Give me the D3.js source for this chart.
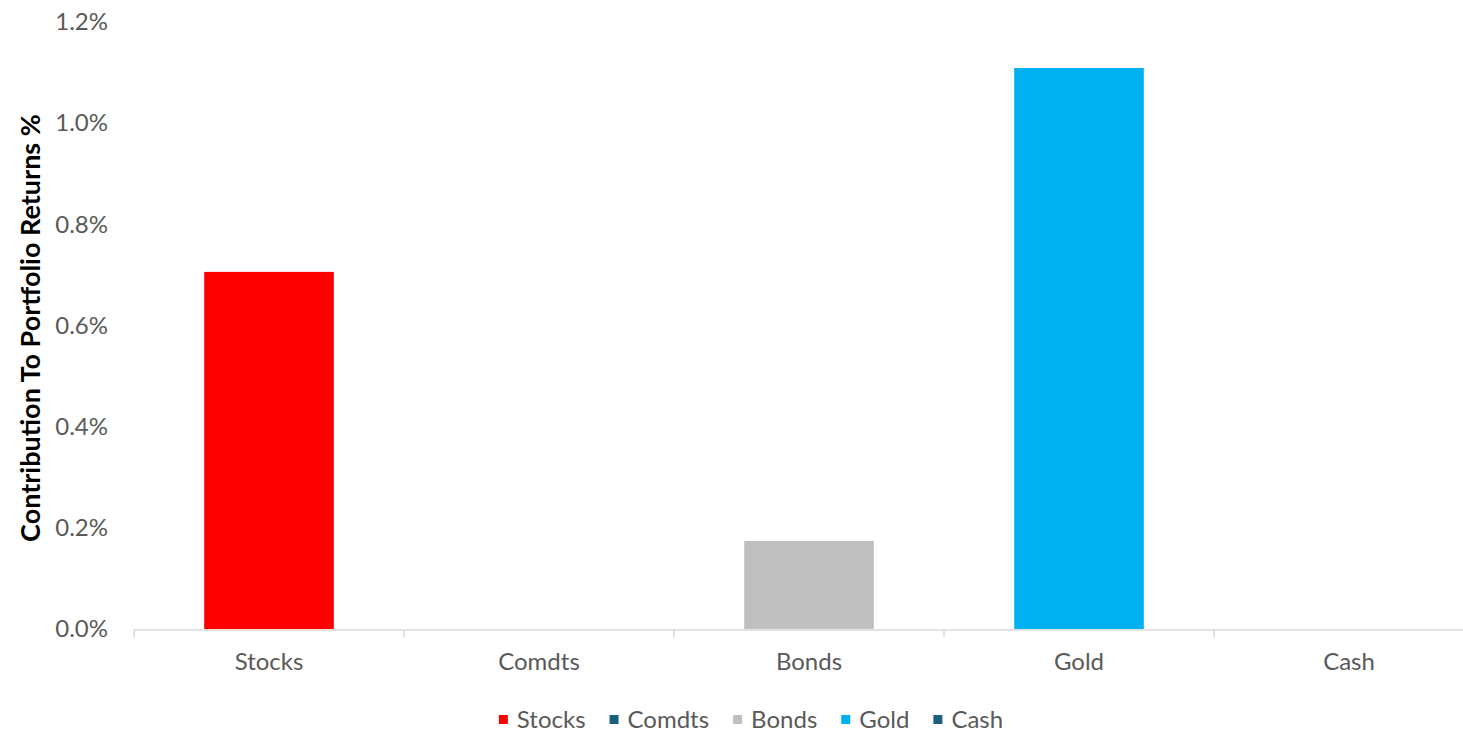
<!DOCTYPE html>
<html>
<head>
<meta charset="utf-8">
<script src="https://cdn.jsdelivr.net/npm/d3@7"></script>
<style>
  body { margin: 0; background: #fff; }
  svg { display: block; font-family: Lato, "Open Sans", sans-serif; }
</style>
</head>
<body>
<svg id="svg1" width="1463" height="732"></svg>
<script>
var categories = ["Stocks", "Comdts", "Bonds", "Gold", "Cash"];
var contributions = [0.706, 0.0, 0.174, 1.109, 0.0];
var barColors = ["#ff0000", "#1a5e82", "#bfbfbf", "#00b0f0", "#1a5e82"];
var yTicks = [0, 0.2, 0.4, 0.6, 0.8, 1.0, 1.2];

var svg = d3.select("svg#svg1");

var x = d3.scaleBand()
  .domain(categories)
  .range([134, 1484])
  .paddingInner(0.52)
  .paddingOuter(0.26);

// band edges for the category ticks
var band = d3.scaleBand().domain(categories).range([134, 1484]);

var y = d3.scaleLinear()
  .domain([0, 1.2])
  .range([629, 22]);

var rows = categories.map(function(c, i) {
  return { key: c, value: contributions[i], color: barColors[i] };
});

// bars
svg.append("g").selectAll("rect")
  .data(rows)
  .enter().append("rect")
  .attr("x", function(d) { return x(d.key); })
  .attr("width", x.bandwidth())
  .attr("y", function(d) { return y(d.value); })
  .attr("height", function(d) { return y(0) - y(d.value); })
  .attr("fill", function(d) { return d.color; });

// y axis labels only
var yAxis = d3.axisLeft(y)
  .tickValues(yTicks)
  .tickSize(0)
  .tickPadding(0)
  .tickFormat(function(d) { return d.toFixed(1) + "%"; });

var yg = svg.append("g")
  .attr("transform", "translate(108,0)")
  .call(yAxis);
yg.select(".domain").remove();
yg.selectAll("text")
  .attr("fill", "#595959")
  .style("font-size", "24px")
  .style("font-family", "Lato, 'Open Sans', sans-serif");

// x axis line and ticks at band edges
var edges = categories.map(function(c) { return band(c); }).concat([1484]);
var xg = svg.append("g");
xg.append("line")
  .attr("x1", 134).attr("x2", 1484)
  .attr("y1", 630).attr("y2", 630)
  .attr("stroke", "#d9d9d9").attr("stroke-width", 1.5);
xg.selectAll("line.tick")
  .data(edges)
  .enter().append("line")
  .attr("class", "tick")
  .attr("x1", function(d) { return d; }).attr("x2", function(d) { return d; })
  .attr("y1", 630).attr("y2", 637)
  .attr("stroke", "#d9d9d9").attr("stroke-width", 1.5);
xg.selectAll("text")
  .data(categories)
  .enter().append("text")
  .attr("x", function(d) { return band(d) + band.bandwidth() / 2; })
  .attr("y", 670)
  .attr("text-anchor", "middle")
  .attr("fill", "#595959")
  .style("font-size", "24px")
  .text(function(d) { return d; });

// y title
svg.append("text")
  .attr("transform", "translate(40,328) rotate(-90)")
  .attr("text-anchor", "middle")
  .attr("fill", "#000")
  .style("font-size", "27px")
  .style("font-weight", "bold")
  .text("Contribution To Portfolio Returns %");

// legend
var legend = svg.append("g");
var items = legend.selectAll("g")
  .data(rows)
  .enter().append("g");
items.append("rect")
  .attr("width", 9).attr("height", 9)
  .attr("y", -13)
  .attr("fill", function(d) { return d.color; });
items.append("text")
  .attr("x", 18)
  .attr("fill", "#595959")
  .style("font-size", "24px")
  .text(function(d) { return d.key; });

var offset = 0;
var positions = [];
items.each(function() {
  var w = d3.select(this).select("text").node().getComputedTextLength();
  positions.push(offset);
  offset += 18 + w + 24;
});
var total = offset - 24;
items.attr("transform", function(d, i) { return "translate(" + positions[i] + ",0)"; });
legend.attr("transform", "translate(" + (751 - total / 2) + ",728)");
</script>
</body>
</html>
